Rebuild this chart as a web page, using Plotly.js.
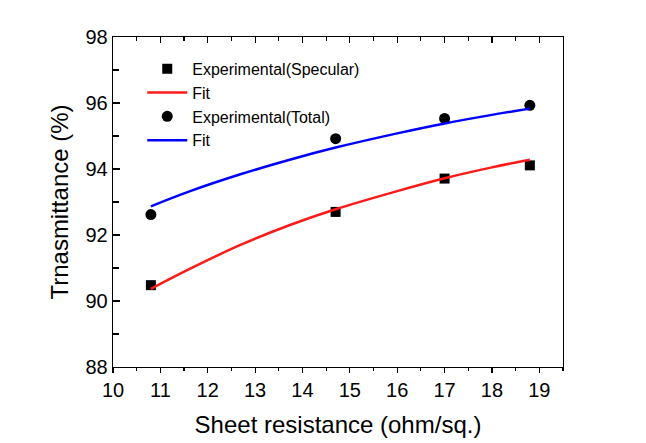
<!DOCTYPE html>
<html>
<head>
<meta charset="utf-8">
<script src="https://cdn.plot.ly/plotly-3.0.1.min.js"></script>
<style>html,body{margin:0;padding:0;background:#fff;}#chart{width:646px;height:443px;}</style>
</head>
<body>
<div id="chart"></div>
<script>
// Measured points
const expX = [10.8, 14.7, 17.0, 18.8];
const specularT = [90.48, 92.70, 93.71, 94.11];
const totalT = [92.62, 94.92, 95.53, 95.93];
// Fit curves
const fitX = [10.8, 11.63, 12.69, 13.75, 14.7, 16.0, 17.0, 18.0, 18.8];
const fitSpecular = [90.37, 90.98, 91.70, 92.31, 92.78, 93.33, 93.72, 94.05, 94.28];
const fitTotal = [92.87, 93.33, 93.84, 94.29, 94.65, 95.08, 95.38, 95.64, 95.83];
const xTicks = [10, 11, 12, 13, 14, 15, 16, 17, 18, 19];
const yTicks = [88, 90, 92, 94, 96, 98];

const FONT = 'Liberation Sans, Arial, sans-serif';

const traces = [
  {x: expX, y: specularT, mode: 'markers', name: 'Experimental(Specular)',
   marker: {symbol: 'square', size: 10, color: '#000'}},
  {x: fitX, y: fitSpecular, mode: 'lines', name: 'Fit',
   line: {color: '#ff1a1a', width: 2.5, shape: 'spline', smoothing: 1}},
  {x: expX, y: totalT, mode: 'markers', name: 'Experimental(Total)',
   marker: {symbol: 'circle', size: 11, color: '#000'}},
  {x: fitX, y: fitTotal, mode: 'lines', name: 'Fit',
   line: {color: '#0000ff', width: 2.5, shape: 'spline', smoothing: 1}},
  {x: [10], y: [88], xaxis: 'x2', mode: 'markers', showlegend: false,
   hoverinfo: 'skip', marker: {opacity: 0}}
];

const layout = {
  width: 646, height: 443,
  margin: {l: 113, r: 83, t: 37, b: 76},
  paper_bgcolor: '#fff', plot_bgcolor: '#fff',
  font: {family: FONT, color: '#000'},
  showlegend: true,
  legend: {x: 0.065, y: 0.955, xanchor: 'left', yanchor: 'top',
           bgcolor: 'rgba(0,0,0,0)', borderwidth: 0, itemwidth: 40,
           font: {family: FONT, size: 16, color: '#000'},
           traceorder: 'normal', tracegroupgap: 0},
  xaxis: {range: [10, 19.5], tickvals: xTicks, ticktext: xTicks.map(String),
          ticks: 'outside', ticklen: 5, tickwidth: 1.2, tickcolor: '#000',
          minor: {dtick: 0.5, tick0: 10, ticks: 'outside', ticklen: 3, tickcolor: '#000', tickwidth: 1.2},
          showline: true, linecolor: '#000', linewidth: 1.3, mirror: true,
          showgrid: false, zeroline: false,
          tickfont: {family: FONT, size: 20, color: '#000'},
          title: {text: 'Sheet resistance (ohm/sq.)', font: {family: FONT, size: 24, color: '#000'}, standoff: 16}},
  xaxis2: {overlaying: 'x', side: 'top', range: [10, 19.5], tickvals: xTicks,
           showticklabels: false, ticks: 'inside', ticklen: 6, tickwidth: 1.2, tickcolor: '#000',
           minor: {dtick: 0.5, tick0: 10, ticks: 'inside', ticklen: 4, tickcolor: '#000', tickwidth: 1.2},
           showline: false, showgrid: false, zeroline: false},
  yaxis: {range: [88, 98], tickvals: yTicks, ticktext: yTicks.map(String),
          ticks: 'inside', ticklen: 7, tickwidth: 1.2, tickcolor: '#000',
          minor: {dtick: 1, tick0: 88, ticks: 'inside', ticklen: 6, tickcolor: '#000', tickwidth: 1.2},
          showline: true, linecolor: '#000', linewidth: 1.3, mirror: true,
          showgrid: false, zeroline: false,
          tickfont: {family: FONT, size: 20, color: '#000'},
          title: {text: 'Trnasmittance (%)', font: {family: FONT, size: 24, color: '#000'}, standoff: 10}}
};

Plotly.newPlot('chart', traces, layout, {displayModeBar: false, staticPlot: true});
</script>
</body>
</html>
